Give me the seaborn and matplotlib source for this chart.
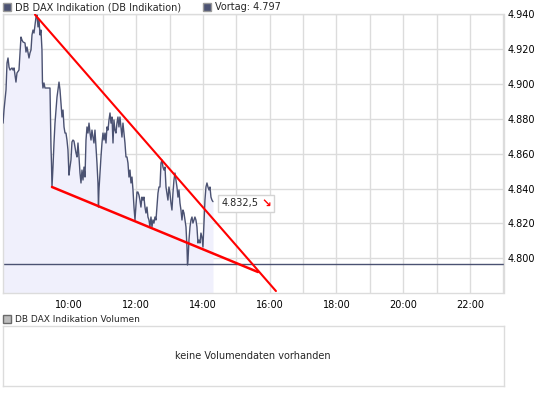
import numpy as np
import pandas as pd
import matplotlib
matplotlib.use("Agg")
import matplotlib.pyplot as plt
from matplotlib.patches import Rectangle
import seaborn as sns

# ---------------- data ----------------
# minutes after 08:00
minutes = [1, 2.7, 4.5, 6.3, 8.1, 9.9, 11.7, 13.5, 17.1, 18.9, 20.7, 24.2, 26, 29.6, 33.2, 35, 36.8, 40.4,
           42.2, 44, 47.6, 49.4, 51.2, 53, 54.8, 56.6, 58.4, 60.2, 62, 63.8, 65.6, 67.4, 69.1, 70.9, 71.8,
           72.7, 74.5, 76.3, 85.3, 86.2, 87.1, 88, 88.9, 90.7, 92.5, 94.3, 96.1, 97.9, 99.7, 101.5, 103.3,
           105.1, 106.9, 108.7, 110.5, 112.3, 114, 115.8, 117.6, 119.4, 121.2, 123, 124.8, 126.6, 128.4,
           130.2, 132, 133.8, 135.6, 137.4, 139.2, 141, 142.8, 144.6, 146.4, 148.2, 150, 151.8, 153.6,
           155.4, 157.2, 159, 160.7, 162.5, 164.3, 166.1, 167.9, 169.7, 171.5, 172.4, 173.3, 175.1, 176.9,
           178.7, 180.5, 182.3, 184.1, 185.9, 187.7, 189.5, 191.3, 193.1, 194.9, 196.7, 198.5, 200.2, 202,
           203.8, 205.6, 207.4, 209.2, 211, 212.8, 214.6, 216.4, 218.2, 220, 221.8, 223.6, 225.4, 227.2,
           229, 230.8, 232.6, 234.4, 236.2, 238, 239.8, 241.6, 243.3, 245.1, 246.9, 248.7, 250.5, 252.3,
           254.1, 255.9, 257.7, 259.5, 261.3, 263.1, 264.9, 266.7, 268.5, 270.3, 272.1, 273.9, 275.7,
           277.5, 279.3, 281.1, 282.9, 284.7, 286.5, 288.3, 290.1, 291.9, 293.7, 295.4, 297.2, 299, 300.8,
           302.6, 304.4, 306.2, 308, 309.8, 311.6, 313.4, 315.2, 317, 318.8, 320.6, 322.4, 324.2, 326,
           327.8, 329.6, 331.4, 332.3, 333.2, 335, 336.8, 338.6, 340.4, 342.1, 343.9, 345.7, 347.5, 349.3,
           351.1, 352.9, 354.7, 356.5, 358.3, 360.1, 361.9, 363.7, 365.5, 367.3, 369.1, 370.9, 372.7,
           374.5, 376.3, 378.1]
prices = [4877.5, 4885, 4890.7, 4896.5, 4911.9, 4914.8, 4909.6, 4907.9, 4909.1, 4907.9, 4909.1, 4901, 4906.2,
          4907.9, 4926.8, 4925.1, 4924, 4923.4, 4918.2, 4921.1, 4914.8, 4917.7, 4919.4, 4928, 4930.8, 4929.1,
          4933.7, 4938.3, 4939.4, 4932.6, 4936.6, 4928, 4930.8, 4919.4, 4900.5, 4897.6, 4900.5, 4897.6,
          4897.6, 4879.3, 4863.8, 4854.6, 4840.9, 4852.3, 4866.1, 4877.5, 4885, 4892.4, 4896.5, 4901,
          4896.5, 4889, 4881, 4885, 4875.3, 4871.8, 4871.8, 4867.8, 4862.1, 4847.7, 4852.3, 4856.3, 4866.7,
          4867.8, 4867.2, 4863.8, 4860.4, 4858.1, 4866.1, 4858.1, 4848.9, 4843.2, 4850.6, 4844.9, 4852.3,
          4846.6, 4867.8, 4875.3, 4871.8, 4877.5, 4871.8, 4867.8, 4873.5, 4869.5, 4866.1, 4873.5, 4863.8,
          4854.6, 4843.2, 4829.4, 4839.2, 4848.9, 4858.1, 4866.1, 4871.8, 4867.8, 4871.8, 4866.1, 4875.3,
          4873.5, 4879.3, 4883.3, 4877.5, 4881, 4866.1, 4879.3, 4873.5, 4871.8, 4877.5, 4881, 4875.3, 4881,
          4875.3, 4869.5, 4877.5, 4871.8, 4866.1, 4858.1, 4858.1, 4854.6, 4846.6, 4850.6, 4843.2, 4846.6,
          4839.2, 4829.4, 4822, 4830.6, 4838, 4838, 4836.3, 4833.4, 4829.4, 4835.1, 4833.4, 4835.1, 4829.4,
          4826, 4829.4, 4823.7, 4822, 4818, 4823.7, 4818, 4822, 4820.2, 4823.7, 4822, 4829.4, 4837.4,
          4840.9, 4840.9, 4854.6, 4856.3, 4852.3, 4850.6, 4852.3, 4840.9, 4837.4, 4833.4, 4840.9, 4837.4,
          4831.7, 4827.7, 4837.4, 4844.9, 4848.9, 4844.9, 4840.9, 4835.1, 4839.2, 4831.7, 4827.7, 4822,
          4827.7, 4826, 4822, 4818, 4806.5, 4796.2, 4799, 4810.5, 4818, 4822, 4823.7, 4820.2, 4822, 4823.7,
          4822, 4818, 4808.8, 4810.5, 4808.8, 4814.5, 4812.2, 4806.5, 4820.2, 4833.4, 4840.9, 4843.2,
          4840.9, 4839.2, 4840.9, 4835.1, 4833.4, 4832.5]
vortag = 4797
last_label = "4.832,5"
# trend lines (minutes after 08:00, price)
upper_min = [58.4, 491.2]
upper_val = [4939.6, 4781.3]
lower_min = [88.9, 458.9]
lower_val = [4840.9, 4792.2]
xticks_h = [10, 12, 14, 16, 18, 20, 22]
yticks = [4800, 4820, 4840, 4860, 4880, 4900, 4920, 4940]
ytick_labels = ["4.800", "4.820", "4.840", "4.860", "4.880", "4.900", "4.920", "4.940"]
title_main = "DB DAX Indikation (DB Indikation)"
title_vortag = "Vortag: 4.797"
title_volume = "DB DAX Indikation Volumen"
no_volume = "keine Volumendaten vorhanden"

# ---------------- figure ----------------
sns.set_style("white")
plt.rcParams["font.family"] = ["DejaVu Sans"]
W, H = 545, 397
fig = plt.figure(figsize=(W / 100, H / 100), dpi=100)
fig.patch.set_facecolor("white")

def fx(px):
    return px / W

def fy(py):
    return 1 - py / H

ax = fig.add_axes([fx(2.5), fy(293.3), fx(503.5) - fx(2.5), fy(14) - fy(293.3)])
df = pd.DataFrame({"t": 8 + np.array(minutes) / 60.0, "p": prices})
line_col = "#4b5272"
ax.fill_between(df["t"], df["p"], 4780, color="#f0f0fc", zorder=1, linewidth=0)
sns.lineplot(data=df, x="t", y="p", ax=ax, color=line_col, linewidth=1.0, zorder=3)
ax.axhline(vortag, color=line_col, linewidth=1.0, zorder=2)

tr_up = pd.DataFrame({"t": 8 + np.array(upper_min) / 60.0, "p": upper_val})
tr_lo = pd.DataFrame({"t": 8 + np.array(lower_min) / 60.0, "p": lower_val})
sns.lineplot(data=tr_up, x="t", y="p", ax=ax, color="#ff0000", linewidth=1.5, zorder=4)
sns.lineplot(data=tr_lo, x="t", y="p", ax=ax, color="#ff0000", linewidth=1.8, zorder=4)

ax.set_xlim(8, 23)
ax.set_ylim(4780, 4940)
ax.set_xticks(np.arange(8, 24, 1))
ax.set_xticklabels(["%d:00" % h if h in xticks_h else "" for h in range(8, 24)])
ax.set_yticks(yticks)
ax.set_yticklabels(ytick_labels)
ax.yaxis.tick_right()
ax.grid(True, color="#dcdcdc", linewidth=1.0, zorder=0)
ax.set_axisbelow(True)
for s in ax.spines.values():
    s.set_color("#dcdcdc")
    s.set_linewidth(1.0)
ax.tick_params(axis="both", length=0, labelsize=7, colors="black", pad=5)
ax.tick_params(axis="y", pad=3)
ax.set_xlabel("")
ax.set_ylabel("")

# last value label box
fig.patches.append(Rectangle((fx(217.5), fy(211.5)), 56 / W, 16.5 / H, transform=fig.transFigure,
                             facecolor="white", edgecolor="#d4d4d4", linewidth=1, zorder=6))
fig.text(fx(222), fy(203.5), last_label, fontsize=7, ha="left", va="center", zorder=7)
fig.text(fx(266), fy(203.5), "\u2198", fontsize=8.5, color="#ff0000", fontweight="bold",
         ha="center", va="center", zorder=7)

# header legends
def legend_square(x, y, face, edge):
    fig.patches.append(Rectangle((fx(x), fy(y + 8)), 8 / W, 8 / H, transform=fig.transFigure,
                                 facecolor=face, edgecolor=edge, linewidth=1))

legend_square(3, 2.5, "#4b5272", "#9a9a9a")
fig.text(fx(15), fy(7), title_main, fontsize=7, va="center", ha="left")
legend_square(203, 2.5, "#4b5272", "#9a9a9a")
fig.text(fx(215), fy(7), title_vortag, fontsize=7, va="center", ha="left")

legend_square(3, 315, "#bdbdbd", "#6a6a6a")
fig.text(fx(15), fy(319.5), title_volume, fontsize=6.5, va="center", ha="left")

# volume panel
axv = fig.add_axes([fx(2.5), fy(386), fx(503.5) - fx(2.5), fy(326) - fy(386)])
axv.set_xticks([])
axv.set_yticks([])
for s in axv.spines.values():
    s.set_color("#dcdcdc")
    s.set_linewidth(1.0)
axv.text(0.5, 0.5, no_volume, transform=axv.transAxes, fontsize=7, ha="center", va="center")

fig.savefig("out.png", dpi=100, facecolor="white")
